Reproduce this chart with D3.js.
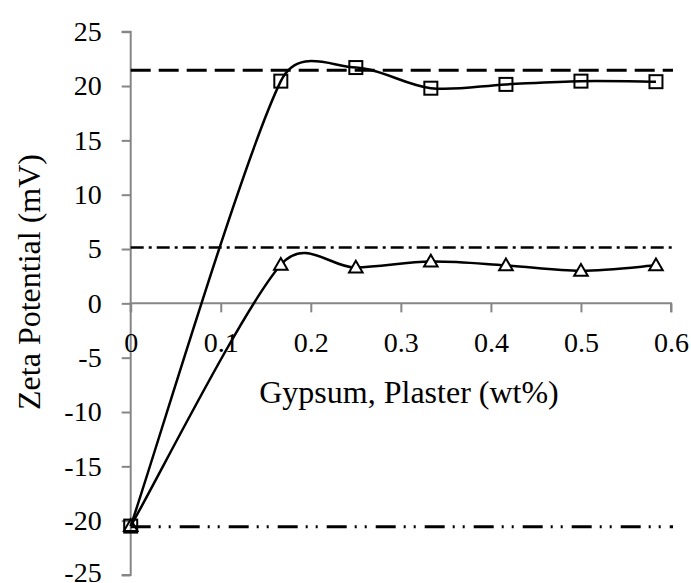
<!DOCTYPE html>
<html><head><meta charset="utf-8">
<script src="https://cdn.jsdelivr.net/npm/d3@7"></script>
<style>
html,body{margin:0;padding:0;background:#fff;}
svg{display:block;}
</style></head>
<body>
<script>
// Data
const xValues = [0, 0.1667, 0.25, 0.3333, 0.4167, 0.5, 0.5833];
const gypsum  = [-20.5, 20.45, 21.7, 19.8, 20.15, 20.45, 20.4];
const plaster = [-20.5, 3.55, 3.3, 3.85, 3.5, 3.0, 3.5];
const refGypsum = 21.45;
const refPlaster = 5.15;
const refBase = -20.55;
const xTicks = [0, 0.1, 0.2, 0.3, 0.4, 0.5, 0.6];
const yTicks = [25, 20, 15, 10, 5, 0, -5, -10, -15, -20, -25];
const xTitle = "Gypsum, Plaster (wt%)";
const yTitle = "Zeta Potential (mV)";

const W = 691, H = 583;
const svg = d3.select("body").append("svg").attr("width", W).attr("height", H);
const FONT = "'Liberation Serif', 'Times New Roman', serif";

const x = d3.scaleLinear().domain([0, 0.6]).range([130.7, 671]);
const y = d3.scaleLinear().domain([-25, 25]).range([575, 31.7]);
const axisGray = "#868686";

// Y axis
const gy = svg.append("g").attr("transform", `translate(${x(0)},0)`)
  .call(d3.axisLeft(y).tickValues(yTicks).tickSize(9).tickPadding(20).tickFormat(d => String(d)));
gy.select(".domain").attr("stroke", axisGray).attr("stroke-width", 2).attr("d", `M-9,${y(25)}H0V${y(-25)}H-9`);
gy.selectAll(".tick line").attr("stroke", axisGray).attr("stroke-width", 2);
gy.selectAll(".tick text").attr("font-family", FONT).attr("font-size", 28).attr("fill", "#000")
  .attr("dy", d => d === -25 ? "0.22em" : "0.32em");

// X axis at y=0
const gx = svg.append("g").attr("transform", `translate(0,${y(0)})`)
  .call(d3.axisBottom(x).tickValues(xTicks).tickSize(9).tickPadding(20).tickFormat(d => String(d)));
gx.select(".domain").attr("stroke", axisGray).attr("stroke-width", 2).attr("d", `M${x(0)},9V0H${x(0.6)}V9`);
gx.selectAll(".tick line").attr("stroke", axisGray).attr("stroke-width", 2);
gx.selectAll(".tick text").attr("font-family", FONT).attr("font-size", 28).attr("fill", "#000");

// Titles
svg.append("text").attr("x", 409).attr("y", 403).attr("text-anchor", "middle")
  .attr("font-family", FONT).attr("font-size", 32).text(xTitle);
svg.append("text").attr("transform", `translate(40,${282}) rotate(-90)`).attr("text-anchor", "middle")
  .attr("font-family", FONT).attr("font-size", 32).text(yTitle);

// Reference lines
function hline(v, dash, w) {
  svg.append("line").attr("x1", x(0)).attr("x2", x(0.6) + 2).attr("y1", y(v)).attr("y2", y(v))
    .attr("stroke", "#000").attr("stroke-width", w).attr("stroke-dasharray", dash);
}
hline(refGypsum, "20,8", 3);
hline(refPlaster, "13,5,3,5", 2.5);
hline(refBase, "20,8,2,8,2,9", 3);

// Excel-like smoothed line: Catmull-Rom tangents, handles limited to half the segment chord
function smoothPath(vals) {
  const p = vals.map((v, i) => [x(xValues[i]), y(v)]);
  const n = p.length;
  const tan = p.map((pt, i) => {
    const a = p[Math.max(0, i - 1)], b = p[Math.min(n - 1, i + 1)];
    return [(b[0] - a[0]) / 6, (b[1] - a[1]) / 6];
  });
  const clamp = (t, chord) => {
    const L = Math.hypot(t[0], t[1]), m = chord * 0.5;
    return L > m ? [t[0] * m / L, t[1] * m / L] : t;
  };
  const path = d3.path();
  path.moveTo(p[0][0], p[0][1]);
  for (let i = 0; i < n - 1; i++) {
    const chord = Math.hypot(p[i + 1][0] - p[i][0], p[i + 1][1] - p[i][1]);
    const t1 = clamp(tan[i], chord), t2 = clamp(tan[i + 1], chord);
    path.bezierCurveTo(p[i][0] + t1[0], p[i][1] + t1[1], p[i + 1][0] - t2[0], p[i + 1][1] - t2[1], p[i + 1][0], p[i + 1][1]);
  }
  return path.toString();
}
svg.append("path").attr("d", smoothPath(gypsum)).attr("fill", "none").attr("stroke", "#000").attr("stroke-width", 2.5);
svg.append("path").attr("d", smoothPath(plaster)).attr("fill", "none").attr("stroke", "#000").attr("stroke-width", 2.5);

// Markers
const sq = 13;
svg.append("g").selectAll("rect").data(gypsum).join("rect")
  .attr("x", (d, i) => x(xValues[i]) - sq / 2).attr("y", d => y(d) - sq / 2)
  .attr("width", sq).attr("height", sq).attr("fill", "none").attr("stroke", "#000").attr("stroke-width", 2);
const tri = d3.symbol().type(d3.symbolTriangle).size(80);
svg.append("g").selectAll("path").data(plaster).join("path")
  .attr("transform", (d, i) => `translate(${x(xValues[i])},${y(d) + 1})`)
  .attr("d", tri).attr("fill", "#fff").attr("fill-opacity", (d, i) => i === 0 ? 0 : 1)
  .attr("stroke", "#000").attr("stroke-width", 2);
</script>
</body></html>
